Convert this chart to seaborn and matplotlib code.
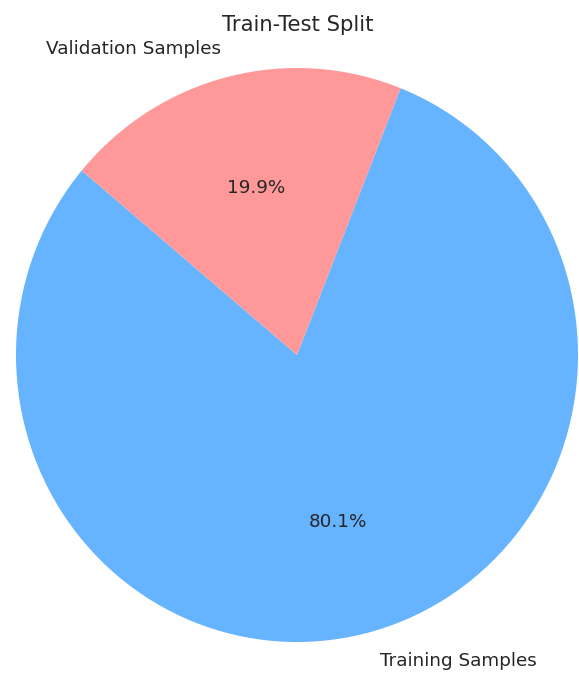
import matplotlib
matplotlib.use("Agg")
import matplotlib.pyplot as plt
import seaborn as sns

labels = ["Training Samples", "Validation Samples"]
shares = [80.1, 19.9]
colors = ["#66b3ff", "#ff9999"]
title = "Train-Test Split"

sns.set_theme(style="white")
plt.rcParams["font.family"] = ["DejaVu Sans"]
plt.rcParams["text.color"] = "#262626"

W, H = 579, 677
fig = plt.figure(figsize=(W / 100, H / 100), dpi=100)
ax = fig.add_axes([0, 0, 1, 1])

cx, cy, rx, ry = 297, 355, 281, 287

wedges, texts, autotexts = ax.pie(
    shares, labels=labels, colors=colors, autopct="%1.1f%%",
    startangle=140, textprops={"fontsize": 13.2, "color": "#262626"},
    wedgeprops={"linewidth": 0},
)
ax.set_aspect("auto")
ax.set_xlim(-cx / rx, (W - cx) / rx)
ax.set_ylim((cy - H) / ry, cy / ry)
ax.axis("off")

# small nudge of the lower label as in reference
texts[0].set_position(((380 - cx) / rx, (cy - 661) / ry))

fig.text(298 / W, 1 - 25 / H, title, ha="center", va="center",
         fontsize=15.2, color="#262626")

fig.savefig("out.png", dpi=100)
